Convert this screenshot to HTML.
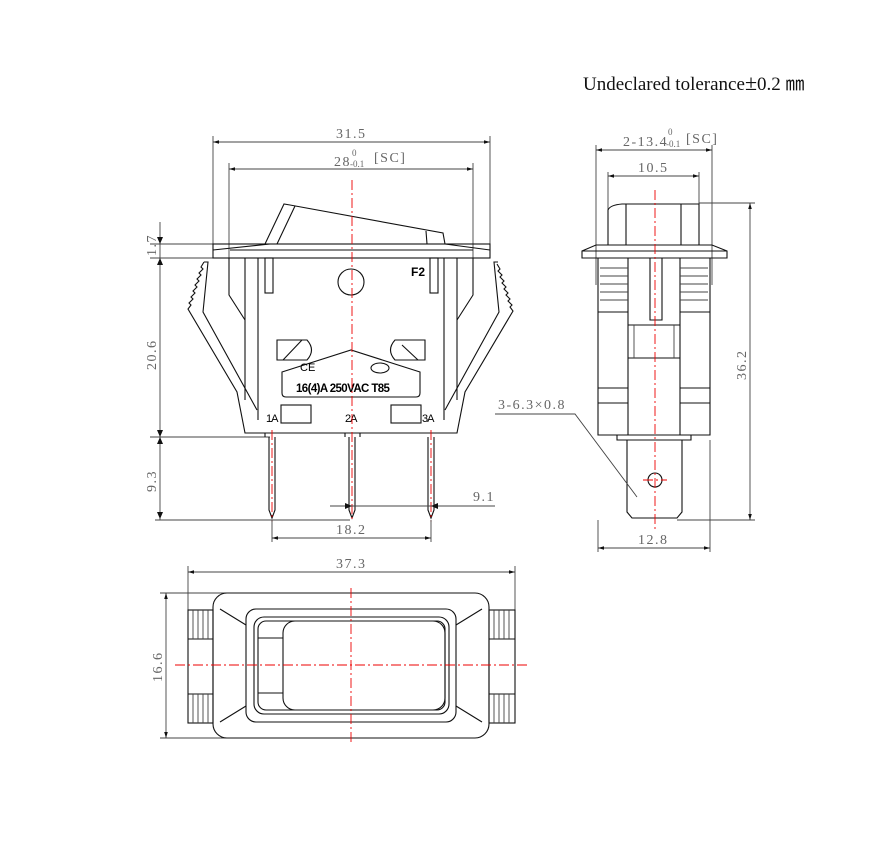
<!DOCTYPE html>
<html><head><meta charset="utf-8"><style>
html,body{margin:0;padding:0;background:#fff}
svg{display:block}
.l{stroke:#111;stroke-width:1.1;fill:none}
.t{stroke:#444;stroke-width:0.9;fill:none}
.c{stroke:#e00;stroke-width:0.9;fill:none;stroke-dasharray:10 3 2 3}
.d{font-family:"Liberation Serif",serif;font-size:14px;fill:#666;letter-spacing:1.5px}
</style></head><body>
<svg width="896" height="859" viewBox="0 0 896 859" xmlns="http://www.w3.org/2000/svg">
<defs>
<marker id="a" viewBox="0 0 10 6" refX="10" refY="3" markerWidth="10" markerHeight="4" orient="auto-start-reverse"><path d="M0,0L10,3L0,6z" fill="#111"/></marker>
</defs>
<text x="583" y="90" font-family="Liberation Serif,serif" font-size="19" fill="#111">Undeclared tolerance<tspan font-size="22">±</tspan>0.2 ㎜</text>

<!-- FRONT VIEW -->
<g>
<line class="t" x1="213" y1="136" x2="213" y2="258"/><line class="t" x1="490" y1="136" x2="490" y2="258"/>
<line class="t" x1="213" y1="142" x2="490" y2="142" marker-start="url(#a)" marker-end="url(#a)"/>
<text class="d" x="336" y="138">31.5</text>
<line class="t" x1="229" y1="163" x2="229" y2="295"/><line class="t" x1="473" y1="163" x2="473" y2="295"/>
<line class="t" x1="229" y1="169" x2="473" y2="169" marker-start="url(#a)" marker-end="url(#a)"/>
<text class="d" x="334" y="166">28</text>
<text x="352" y="156" font-family="Liberation Serif,serif" font-size="9" fill="#666">0</text>
<text x="350" y="167" font-family="Liberation Serif,serif" font-size="9" fill="#666">-0.1</text>
<text class="d" x="374" y="162">[SC]</text>
<line class="t" x1="150" y1="244" x2="265" y2="244"/>
<line class="t" x1="150" y1="258" x2="213" y2="258"/>
<line class="t" x1="160" y1="222" x2="160" y2="520"/>
<path d="M157,237l3,7l3,-7zM157,265l3,-7l3,7zM157,430l3,7l3,-7zM157,444l3,-7l3,7zM157,512l3,7l3,-7z" fill="#111"/>
<line class="t" x1="150" y1="437" x2="270" y2="437"/>
<line class="t" x1="155" y1="520" x2="350" y2="520"/>
<text class="d" transform="translate(156,256) rotate(-90)">1.7</text>
<text class="d" transform="translate(156,370) rotate(-90)">20.6</text>
<text class="d" transform="translate(156,492) rotate(-90)">9.3</text>
<rect class="l" x="213" y="244" width="277" height="14"/>
<line class="l" x1="213" y1="250" x2="270" y2="244"/><line class="l" x1="490" y1="250" x2="445" y2="244"/>
<line class="l" x1="230" y1="250" x2="473" y2="250"/>
<path class="l" d="M265,244L284,204L290,205L443,233L445,244"/>
<path class="l" d="M277,244L295,206M426,231L427,244"/>
<line class="l" x1="245" y1="258" x2="245" y2="400"/><line class="l" x1="457" y1="258" x2="457" y2="400"/>
<line class="l" x1="258" y1="258" x2="258" y2="420"/><line class="l" x1="444" y1="258" x2="444" y2="420"/>
<path class="l" d="M229,258L229,295L245,320M473,258L473,295L457,320"/>
<rect class="l" x="265" y="258" width="8" height="35"/><rect class="l" x="430" y="258" width="8" height="35"/>
<circle class="l" cx="351" cy="282" r="13"/>
<text x="411" y="276" font-family="Liberation Sans,sans-serif" font-size="12" font-weight="bold">F2</text>
<path class="l" d="M204,262l-3,5l2,2l-4,4l2,2l-4,4l2,2l-4,4l2,2l-4,4l2,2l-4,4l2,2l-4,4l2,2l-3,4L237,392L245,433L457,433L465,392L513,311l-3,-4l2,-2l-4,-4l2,-2l-4,-4l2,-2l-4,-4l2,-2l-4,-4l2,-2l-4,-4l2,-2l-4,-4l2,-2l-3,-5"/>
<path class="l" d="M204,262L208,262L203,312L257,410M498,262L494,262L499,312L445,410"/>
<path class="l" d="M277,340L307,340Q316,350 307,360L277,360Z"/>
<path class="l" d="M425,340L395,340Q386,350 395,360L425,360Z"/>
<path class="l" d="M283,360L302,340M402,345L418,360"/>
<path class="l" d="M282,372L282,393Q282,397 286,397L416,397Q420,397 420,393L420,372L351,350Z"/>
<text x="300" y="371" font-family="Liberation Sans,sans-serif" font-size="11">CE</text>
<ellipse class="l" cx="380" cy="368" rx="9" ry="5"/>
<text x="296" y="392" font-family="Liberation Sans,sans-serif" font-size="11.5" font-weight="bold" letter-spacing="-0.6">16(4)A 250VAC T85</text>
<rect class="l" x="281" y="405" width="30" height="18"/><rect class="l" x="391" y="405" width="30" height="18"/>
<text x="266" y="422" font-family="Liberation Sans,sans-serif" font-size="11" letter-spacing="-1">1A</text>
<text x="345" y="422" font-family="Liberation Sans,sans-serif" font-size="11" letter-spacing="-1">2A</text>
<text x="422" y="422" font-family="Liberation Sans,sans-serif" font-size="11" letter-spacing="-1">3A</text>
<path class="l" d="M269,437L269,510L272,518L275,510L275,437M349,437L349,510L352,518L355,510L355,437M428,437L428,510L431,518L434,510L434,437"/>
<path class="l" d="M265,437L265,433M360,437L360,433M345,437L345,433"/>
<line class="c" x1="272" y1="430" x2="272" y2="522"/><line class="c" x1="431" y1="430" x2="431" y2="522"/>
<line class="c" x1="352" y1="180" x2="352" y2="522"/>
<line class="t" x1="330" y1="506" x2="495" y2="506"/>
<path d="M345,503l7,3l-7,3zM438,503l-7,3l7,3z" fill="#111"/>
<text class="d" x="473" y="501">9.1</text>
<line class="t" x1="272" y1="520" x2="272" y2="542"/><line class="t" x1="431" y1="520" x2="431" y2="542"/>
<line class="t" x1="272" y1="538" x2="431" y2="538" marker-start="url(#a)" marker-end="url(#a)"/>
<text class="d" x="336" y="534">18.2</text>
</g>

<!-- SIDE VIEW -->
<g>
<line class="t" x1="596" y1="145" x2="596" y2="285"/><line class="t" x1="712" y1="145" x2="712" y2="285"/>
<line class="t" x1="596" y1="150" x2="712" y2="150" marker-start="url(#a)" marker-end="url(#a)"/>
<text class="d" x="623" y="146">2-13.4</text>
<text x="668" y="135" font-family="Liberation Serif,serif" font-size="9" fill="#666">0</text>
<text x="666" y="147" font-family="Liberation Serif,serif" font-size="9" fill="#666">-0.1</text>
<text class="d" x="686" y="143">[SC]</text>
<line class="t" x1="608" y1="172" x2="608" y2="210"/><line class="t" x1="699" y1="172" x2="699" y2="210"/>
<line class="t" x1="608" y1="176" x2="699" y2="176" marker-start="url(#a)" marker-end="url(#a)"/>
<text class="d" x="638" y="172">10.5</text>
<path class="l" d="M608,245L608,210Q610,205 622,204L699,204L699,245M626,204L626,245M681,204L681,245M614,245L694,245"/>
<line class="t" x1="699" y1="203" x2="755" y2="203"/>
<path class="l" d="M582,251L582,258L727,258L727,251L712,245L596,245ZM582,251L727,251"/>
<path class="l" d="M598,258L598,435L710,435L710,258M628,258L628,435M680,258L680,435M598,312L628,312M680,312L710,312M628,325L680,325M628,358L680,358M598,388L628,388M680,388L710,388M598,403L628,403M680,403L710,403M650,258L650,320L662,320L662,258"/>
<path class="t" d="M600,268L628,268M600,276L628,276M600,284L628,284M600,292L628,292M600,300L628,300M680,268L708,268M680,276L708,276M680,284L708,284M680,292L708,292M680,300L708,300M634,325L634,358M674,325L674,358"/>
<path class="l" d="M617,435L617,440L691,440L691,435M627,440L627,512L632,518L677,518L682,512L682,440"/>
<circle class="l" cx="655" cy="480" r="7"/>
<line class="c" x1="655" y1="190" x2="655" y2="530"/>
<line class="c" x1="643" y1="480" x2="667" y2="480" stroke-dasharray="none"/>
<line class="t" x1="677" y1="520" x2="755" y2="520"/>
<line class="t" x1="750" y1="203" x2="750" y2="520" marker-start="url(#a)" marker-end="url(#a)"/>
<text class="d" transform="translate(746,380) rotate(-90)">36.2</text>
<line class="t" x1="598" y1="520" x2="598" y2="552"/><line class="t" x1="710" y1="440" x2="710" y2="552"/>
<line class="t" x1="598" y1="548" x2="710" y2="548" marker-start="url(#a)" marker-end="url(#a)"/>
<text class="d" x="638" y="544">12.8</text>
<text class="d" x="498" y="409" letter-spacing="0.5">3-6.3×0.8</text>
<path class="t" d="M495,414L575,414L637,497"/>
</g>

<!-- BOTTOM VIEW -->
<g>
<line class="t" x1="188" y1="566" x2="188" y2="612"/><line class="t" x1="515" y1="566" x2="515" y2="612"/>
<line class="t" x1="188" y1="572" x2="515" y2="572" marker-start="url(#a)" marker-end="url(#a)"/>
<text class="d" x="336" y="568">37.3</text>
<line class="t" x1="160" y1="593" x2="240" y2="593"/><line class="t" x1="160" y1="738" x2="240" y2="738"/>
<line class="t" x1="166" y1="593" x2="166" y2="738" marker-start="url(#a)" marker-end="url(#a)"/>
<text class="d" transform="translate(162,682) rotate(-90)">16.6</text>
<rect class="l" x="213" y="593" width="276" height="145" rx="14"/>
<rect class="l" x="246" y="609" width="210" height="113" rx="10"/>
<path class="l" d="M220,609L246,625M482,609L456,625M220,722L246,706M482,722L456,706"/>
<rect class="l" x="254" y="617" width="195" height="97" rx="10"/>
<rect class="l" x="258" y="621" width="187" height="89" rx="8"/>
<rect class="l" x="283" y="621" width="162" height="89" rx="12"/>
<path class="l" d="M258,638L283,638M258,693L283,693"/>
<rect class="l" x="188" y="610" width="25" height="113"/><rect class="l" x="489" y="610" width="26" height="113"/>
<path class="l" d="M188,639L213,639M188,694L213,694M489,639L515,639M489,694L515,694"/>
<path class="t" d="M193,610V639M198,610V639M203,610V639M208,610V639M193,694V723M198,694V723M203,694V723M208,694V723M494,610V639M499,610V639M504,610V639M509,610V639M494,694V723M499,694V723M504,694V723M509,694V723"/>
<line class="c" x1="175" y1="665" x2="528" y2="665"/>
<line class="c" x1="351" y1="588" x2="351" y2="745"/>
</g>
</svg>
</body></html>
